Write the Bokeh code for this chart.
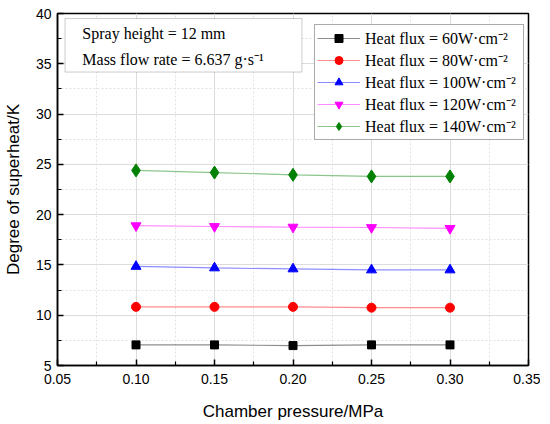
from bokeh.plotting import figure
from bokeh.models import (FixedTicker, Legend, LegendItem, Label, BoxAnnotation,
                          NumeralTickFormatter, Range1d)
from bokeh.embed import file_html
from bokeh.resources import INLINE

pressure = [0.10, 0.15, 0.20, 0.25, 0.30]
hf60 = [7.05, 7.05, 6.98, 7.05, 7.05]
hf80 = [10.83, 10.83, 10.83, 10.75, 10.75]
hf100 = [14.85, 14.7, 14.6, 14.5, 14.5]
hf120 = [18.9, 18.82, 18.76, 18.72, 18.63]
hf140 = [24.4, 24.18, 23.96, 23.8, 23.8]

labels = ["Heat flux = 60W\u00b7cm\u207b\u00b2", "Heat flux = 80W\u00b7cm\u207b\u00b2",
          "Heat flux = 100W\u00b7cm\u207b\u00b2", "Heat flux = 120W\u00b7cm\u207b\u00b2",
          "Heat flux = 140W\u00b7cm\u207b\u00b2"]
x_ticks = [0.05, 0.10, 0.15, 0.20, 0.25, 0.30, 0.35]
x_minor = [0.075, 0.125, 0.175, 0.225, 0.275, 0.325]
y_ticks = [5, 10, 15, 20, 25, 30, 35, 40]
y_minor = [7.5, 12.5, 17.5, 22.5, 27.5, 32.5, 37.5]

p = figure(frame_width=471, frame_height=352, output_backend="svg", toolbar_location=None,
           x_range=Range1d(0.05, 0.35), y_range=Range1d(5, 40),
           min_border_left=52, min_border_right=12, min_border_top=13, min_border_bottom=56)
p.background_fill_color = "white"
p.border_fill_color = "white"
p.outline_line_color = "black"
p.outline_line_width = 1.5

p.xaxis.ticker = FixedTicker(ticks=x_ticks, minor_ticks=x_minor)
p.yaxis.ticker = FixedTicker(ticks=y_ticks, minor_ticks=y_minor)
p.xaxis.formatter = NumeralTickFormatter(format="0.00")
for ax in (p.xaxis, p.yaxis):
    ax.major_tick_in = 6
    ax.major_tick_out = 0
    ax.minor_tick_in = 4
    ax.minor_tick_out = 0
    ax.axis_line_width = 1.5
    ax.major_tick_line_width = 1.5
    ax.minor_tick_line_width = 1.2
    ax.major_label_text_font = "Liberation Sans"
    ax.major_label_text_font_size = "14px"
    ax.major_label_text_color = "black"
    ax.axis_label_text_font = "Liberation Sans"
    ax.axis_label_text_font_size = "17px"
    ax.axis_label_text_font_style = "normal"
    ax.axis_label_text_color = "black"
p.xaxis.major_label_standoff = 8
p.yaxis.major_label_standoff = 6
p.xaxis.axis_label = "Chamber pressure/MPa"
p.yaxis.axis_label = "Degree of superheat/K"
p.xaxis.axis_label_standoff = 15
p.yaxis.axis_label_standoff = 10

for g in (p.xgrid, p.ygrid):
    g.grid_line_color = "#dcdcdc"
    g.grid_line_width = 1
    g.minor_grid_line_color = "#e2e2e2"
    g.minor_grid_line_dash = "2 2"
    g.minor_grid_line_width = 1

series = [hf60, hf80, hf100, hf120, hf140]
colors = ["#000000", "#ff0000", "#0000ff", "#ff00ff", "#008000"]
markers = ["square", "circle", "triangle", "inverted_triangle", "diamond"]
sizes = [8, 9, 10, 10, 13]
items = []
for ys, c, m, s, lab in zip(series, colors, markers, sizes, labels):
    l = p.line(pressure, ys, line_color=c, line_alpha=0.45, line_width=1.2)
    r = p.scatter(pressure, ys, marker=m, size=s, fill_color=c, line_color=c)
    items.append(LegendItem(label=lab, renderers=[l, r]))

legend = Legend(items=items, location=(257, 225))
legend.label_text_font = "Liberation Serif"
legend.label_text_font_size = "16px"
legend.label_text_color = "black"
legend.glyph_width = 43
legend.glyph_height = 20
legend.label_height = 20
legend.label_width = 156
legend.spacing = 0
legend.padding = 2
legend.margin = 0
legend.label_standoff = 5
legend.border_line_color = "#555555"
legend.border_line_width = 1
legend.background_fill_alpha = 1
p.add_layout(legend, "center")

box = BoxAnnotation(left=0.0548, right=0.2057, bottom=34.18, top=39.5,
                    fill_color="white", fill_alpha=1, line_color="#555555", line_width=1)
p.add_layout(box)
p.add_layout(Label(x=0.0658, y=38.0, text="Spray height = 12 mm", text_baseline="middle",
                   text_font="Liberation Serif", text_font_size="16px", text_color="black"))
p.add_layout(Label(x=0.0658, y=35.45, text="Mass flow rate = 6.637 g\u00b7s\u207b\u00b9",
                   text_baseline="middle", text_font="Liberation Serif",
                   text_font_size="16px", text_color="black"))

open("out.html", "w").write(file_html(p, INLINE))
